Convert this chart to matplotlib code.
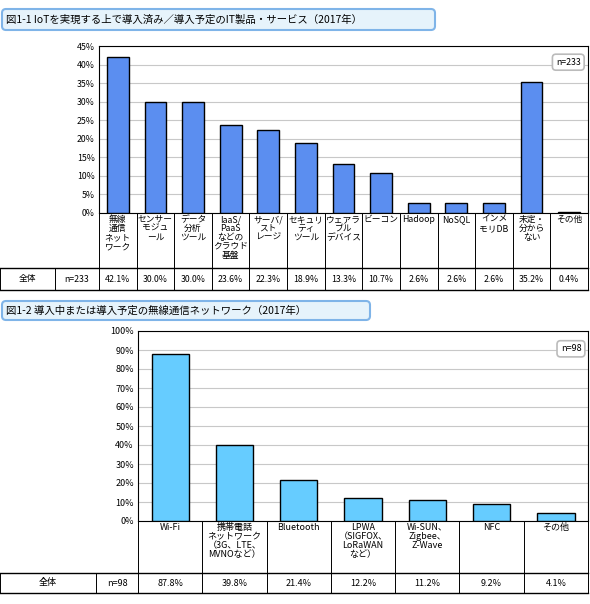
import matplotlib
matplotlib.use("Agg")
import matplotlib.pyplot as plt
from matplotlib.patches import FancyBboxPatch

plt.rcParams['font.family'] = ['Noto Sans CJK JP', 'DejaVu Sans']

title1 = "図1-1 IoTを実現する上で導入済み／導入予定のIT製品・サービス（2017年）"
cats1 = ["無線\n通信\nネット\nワーク", "センサー\nモジュ\nール", "データ\n分析\nツール",
         "IaaS/\nPaaS\nなどの\nクラウド\n基盤", "サーバ/\nスト\nレージ", "セキュリ\nティ\nツール",
         "ウェアラ\nブル\nデバイス", "ビーコン", "Hadoop", "NoSQL", "インメ\nモリDB",
         "未定・\n分から\nない", "その他"]
vals1 = [42.1, 30.0, 30.0, 23.6, 22.3, 18.9, 13.3, 10.7, 2.6, 2.6, 2.6, 35.2, 0.4]
n1 = "n=233"

title2 = "図1-2 導入中または導入予定の無線通信ネットワーク（2017年）"
cats2 = ["Wi-Fi", "携帯電話\nネットワーク\n（3G、LTE、\nMVNOなど）", "Bluetooth",
         "LPWA\n（SIGFOX、\nLoRaWAN\nなど）", "Wi-SUN、\nZigbee、\nZ-Wave", "NFC", "その他"]
vals2 = [87.8, 39.8, 21.4, 12.2, 11.2, 9.2, 4.1]
n2 = "n=98"

W, H = 590, 604
fig = plt.figure(figsize=(W/100, H/100), dpi=100)
ov = fig.add_axes([0, 0, 1, 1])
ov.set_xlim(0, W); ov.set_ylim(H, 0); ov.axis('off')

def panel(title, title_box, cats, vals, n, color, x0, x1, ytop, ybot, ylab_bot, ytab_bot,
          ymax, step, col1, fs):
    tx0, ty0, tx1, ty1 = title_box
    ov.add_patch(FancyBboxPatch((tx0, ty0), tx1-tx0, ty1-ty0, boxstyle="round,pad=0,rounding_size=4",
                                fc="#e6f3fb", ec="#7fb4e8", lw=1.5, zorder=1))
    ov.text(tx0+4, (ty0+ty1)/2, title, fontsize=7.5, va='center', ha='left', zorder=2)
    ax = fig.add_axes([x0/W, 1-ybot/H, (x1-x0)/W, (ybot-ytop)/H])
    k = len(cats)
    ax.bar(range(k), vals, width=0.58, color=color, edgecolor='black', linewidth=1, zorder=3)
    ax.set_xlim(-0.5, k-0.5); ax.set_ylim(0, ymax)
    ticks = list(range(0, ymax+1, step))
    ax.set_yticks(ticks)
    ax.set_yticklabels([f"{t}%" for t in ticks], fontsize=fs)
    ax.yaxis.grid(True, color='#c8c8c8', lw=0.8, zorder=0)
    ax.set_xticks([])
    ax.tick_params(axis='y', length=0, pad=3)
    for s in ax.spines.values():
        s.set_color('black'); s.set_linewidth(0.8)
    ax.text(0.985, 0.93, n, transform=ax.transAxes, ha='right', va='top', fontsize=fs,
            bbox=dict(boxstyle='round,pad=0.4', fc='white', ec='#bbbbbb', lw=1.2))
    cw = (x1 - x0) / k
    # grid lines of label area and table
    for i in range(k+1):
        xx = x0 + i*cw
        ov.plot([xx, xx], [ybot, ytab_bot], color='black', lw=0.7)
    ov.plot([0, x1], [ylab_bot, ylab_bot], color='black', lw=1)
    ov.plot([0, x1], [ytab_bot, ytab_bot], color='black', lw=1)
    ov.plot([0, 0], [ylab_bot, ytab_bot], color='black', lw=0.7)
    ov.plot([col1, col1], [ylab_bot, ytab_bot], color='black', lw=0.7)
    ym = (ylab_bot + ytab_bot)/2
    ov.text(col1/2, ym, "全体", ha='center', va='center', fontsize=fs)
    ov.text((col1+x0)/2, ym, n, ha='center', va='center', fontsize=fs)
    for i, (c, v) in enumerate(zip(cats, vals)):
        xc = x0 + (i+0.5)*cw
        ov.text(xc, ybot+2, c, ha='center', va='top', fontsize=fs, linespacing=1.0)
        ov.text(xc, ym, f"{v:.1f}%", ha='center', va='center', fontsize=fs)

panel(title1, (2, 9, 435, 30), cats1, vals1, n1, "#5b8ef0", 99, 588, 46, 213, 268, 290,
      45, 5, 55, 6.3)
panel(title2, (2, 301, 370, 320), cats2, vals2, n2, "#66ccff", 138, 588, 331, 521, 573, 593,
      100, 10, 96, 6.5)

fig.savefig("out.png", dpi=100)
